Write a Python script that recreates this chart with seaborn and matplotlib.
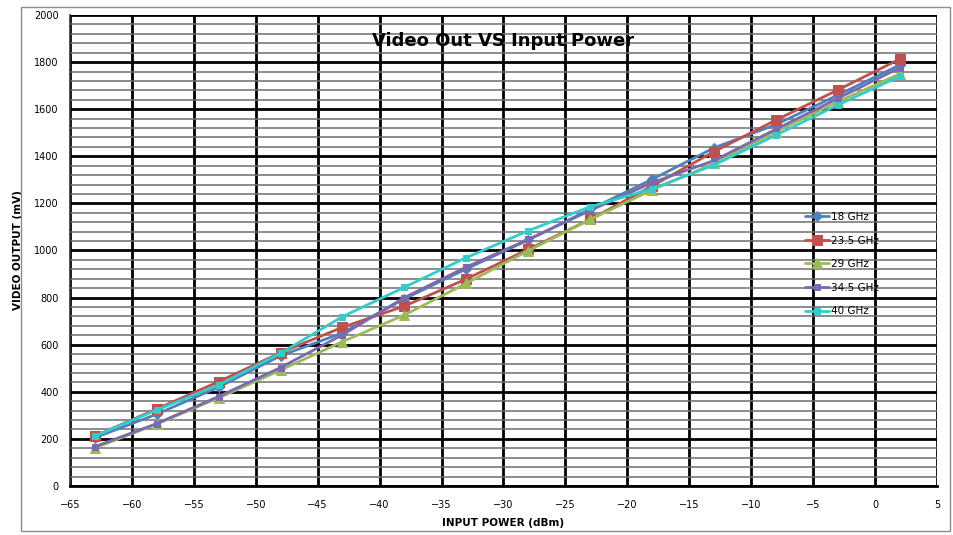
import numpy as np
import pandas as pd
import matplotlib
matplotlib.use("Agg")
import matplotlib.pyplot as plt
from matplotlib.patches import Rectangle
from matplotlib.ticker import MultipleLocator
import seaborn as sns

sns.set_style("white")
plt.rcParams["font.family"] = ["DejaVu Sans"]
plt.rcParams["text.color"] = "black"
plt.rcParams["axes.labelcolor"] = "black"
plt.rcParams["xtick.color"] = "black"
plt.rcParams["ytick.color"] = "black"

# Input power sweep (dBm)
input_power = [-63, -58, -53, -48, -43, -38, -33, -28, -23, -18, -13, -8, -3, 2]

# Detector video output (mV) per carrier frequency
video_18 = [205, 305, 420, 553, 650, 795, 922, 1045, 1175, 1302, 1436, 1535, 1660, 1788]
video_23_5 = [212, 327, 443, 566, 674, 764, 879, 1005, 1132, 1274, 1420, 1554, 1682, 1813]
video_29 = [161, 263, 374, 492, 613, 726, 861, 999, 1132, 1257, 1370, 1505, 1632, 1750]
video_34_5 = [167, 265, 380, 503, 642, 800, 930, 1047, 1170, 1288, 1382, 1515, 1646, 1776]
video_40 = [212, 323, 429, 564, 719, 844, 970, 1084, 1186, 1262, 1363, 1490, 1618, 1740]

series_names = ["18 GHz", "23.5 GHz", "29 GHz", "34.5 GHz", "40 GHz"]
series_values = [video_18, video_23_5, video_29, video_34_5, video_40]

x_ticks = list(range(-65, 10, 5))
y_ticks = list(range(0, 2200, 200))

df = pd.DataFrame({
    "power": np.tile(input_power, len(series_names)),
    "video": np.concatenate(series_values),
    "band": np.repeat(series_names, len(input_power)),
})

colors = {"18 GHz": "#4F81BD", "23.5 GHz": "#C0504D", "29 GHz": "#9BBB59",
          "34.5 GHz": "#7A6AAE", "40 GHz": "#33CCCC"}
markers = {"18 GHz": "D", "23.5 GHz": "s", "29 GHz": "^", "34.5 GHz": "s", "40 GHz": "s"}
msizes = {"18 GHz": 5, "23.5 GHz": 7.5, "29 GHz": 6.5, "34.5 GHz": 4, "40 GHz": 4}

fig = plt.figure(figsize=(9.54, 5.35), dpi=100)
ax = fig.add_axes([70 / 954, 1 - 486 / 535, (937 - 70) / 954, (486 - 15) / 535])

for name in series_names:
    sub = df[df["band"] == name]
    sns.lineplot(data=sub, x="power", y="video", ax=ax, color=colors[name],
                 marker=markers[name], markersize=msizes[name],
                 markeredgecolor=colors[name], linewidth=2, label=name,
                 zorder=3, sort=False)

ax.set_xlim(-65, 5)
ax.set_ylim(0, 2000)
ax.set_xticks(x_ticks)
ax.set_yticks(y_ticks)
ax.yaxis.set_minor_locator(MultipleLocator(40))

ax.grid(which="major", axis="both", color="black", linewidth=2, zorder=0)
ax.grid(which="minor", axis="y", color="#6e6e6e", linewidth=1.1, zorder=0)
ax.set_axisbelow(True)

for side in ["top", "right"]:
    ax.spines[side].set_visible(False)
ax.spines["left"].set_color("#333333")
ax.spines["left"].set_linewidth(1.2)
ax.spines["bottom"].set_color("black")
ax.spines["bottom"].set_linewidth(2)

ax.tick_params(axis="both", which="major", labelsize=7, direction="out",
               length=4, width=1, color="black", pad=4)
ax.tick_params(axis="y", which="minor", length=0)
ax.tick_params(axis="x", pad=6)

ax.set_xlabel("INPUT POWER (dBm)", fontsize=7.5, fontweight="bold", labelpad=6)
ax.set_ylabel("VIDEO OUTPUT (mV)", fontsize=7.5, fontweight="bold", labelpad=8)

ax.text(0.5, 0.945, "Video Out VS Input Power", transform=ax.transAxes,
        ha="center", va="center", fontsize=13, fontweight="bold", zorder=4)

ax.legend(loc="upper left", bbox_to_anchor=(805 / 954, 1 - 212 / 535),
          bbox_transform=fig.transFigure, frameon=False, fontsize=7.5,
          labelspacing=1.3, handlelength=2.3, handletextpad=0.2,
          borderaxespad=0, borderpad=0)

# Chart-area border
fig.patches.append(Rectangle((21 / 954, 4 / 535), (950 - 21) / 954, (528 - 4) / 535,
                             transform=fig.transFigure, fill=False,
                             edgecolor="#8c8c8c", linewidth=1))

fig.savefig("out.png", dpi=100)
